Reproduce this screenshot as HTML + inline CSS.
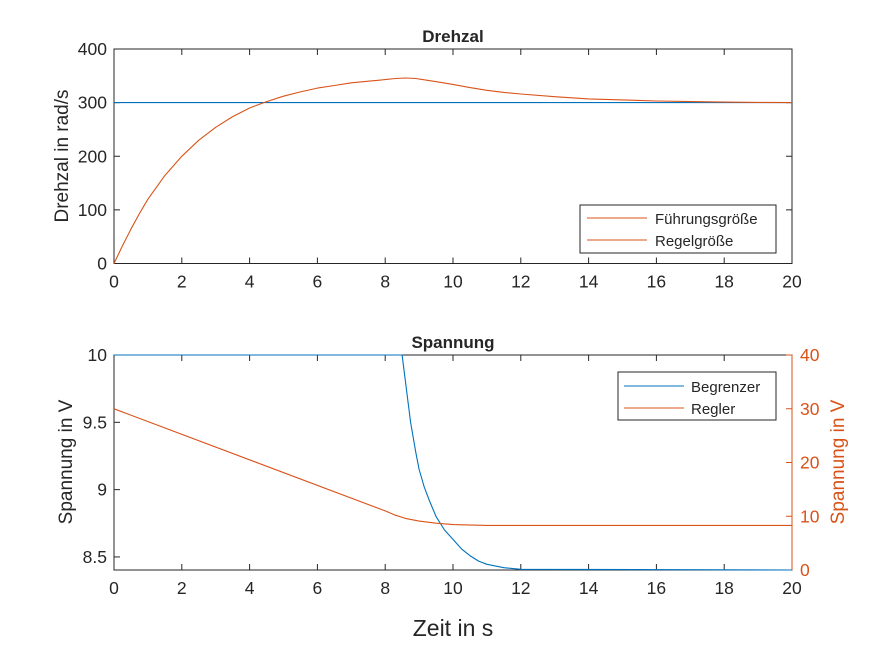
<!DOCTYPE html>
<html><head><meta charset="utf-8"><style>
body{margin:0;background:#fff}
svg text{font-family:"Liberation Sans",sans-serif;fill:#262626}
</style></head><body>
<svg id="c" width="875" height="656" xmlns="http://www.w3.org/2000/svg"></svg>
<script>
const tVals=[0,0.25,0.5,0.75,1,1.5,2,2.5,3,3.5,4,4.5,5,5.5,6,6.5,7,7.5,8,8.3,8.6,8.9,9.2,9.6,10,10.5,11,11.5,12,13,14,15,16,17,18,19,20];
const regelVals=[0,33,64,93,120,164,200,230,254,274,290,302,312,320,327,332,337,340,343,345,346,345,342,338,334,328,323,319,316,311,307,305,303,302,301,300.5,300];
const fuehrVals=[300,300];
const fuehrT=[0,20];
const begT=[0,8.5,8.55,8.65,8.75,8.9,9,9.15,9.3,9.5,9.75,10,10.25,10.5,10.75,11,11.5,12,20];
const begVals=[10,10,9.9,9.7,9.5,9.28,9.15,9.02,8.92,8.8,8.7,8.63,8.56,8.51,8.47,8.445,8.42,8.408,8.403];
const reglT=[0,8,8.3,8.6,9,9.5,10,11,20];
const reglVals=[30,11,10.2,9.6,9.1,8.7,8.45,8.3,8.3];
const xTicks=[0,2,4,6,8,10,12,14,16,18,20];
const topYTicks=[0,100,200,300,400];
const botYTicks=[8.5,9,9.5,10];
const rightTicks=[0,10,20,30,40];
const NS="http://www.w3.org/2000/svg",svg=document.getElementById('c');
function el(t,a,txt){const e=document.createElementNS(NS,t);for(const k in a)e.setAttribute(k,a[k]);if(txt!==undefined)e.textContent=txt;svg.appendChild(e);return e;}
const X0=114,X1=792;
const sx=v=>X0+(X1-X0)*v/20;
const syT=v=>263.5-(263.5-49)*v/400;
const syB=v=>570-(570-355)*(v-8.403)/(10-8.403);
const syR=v=>570-(570-355)*v/40;
function path(ts,vs,fx,fy,col,name){const d=ts.map((t,i)=>(i?'L':'M')+fx(t).toFixed(1)+','+fy(vs[i]).toFixed(1)).join('');
const p=el('path',{d:d,fill:'none',stroke:col,'stroke-width':1.1,'stroke-linejoin':'round'});

}
function axes(top,bot,name){const r=el('rect',{x:X0,y:top,width:X1-X0,height:bot-top,fill:'#fff',stroke:'#262626','stroke-width':1});


xTicks.forEach(v=>{const x=sx(v);el('line',{x1:x,x2:x,y1:bot,y2:bot-6,stroke:'#262626'});el('line',{x1:x,x2:x,y1:top,y2:top+6,stroke:'#262626'});
const t=el('text',{x:x,y:bot+24,'text-anchor':'middle','font-size':17.5},v);

});}
// top
axes(49,263.5,'top-axes');
topYTicks.forEach(v=>{const y=syT(v);el('line',{x1:X0,x2:X0+6,y1:y,y2:y,stroke:'#262626'});el('line',{x1:X1,x2:X1-6,y1:y,y2:y,stroke:'#262626'});
const t=el('text',{x:X0-7,y:y+6,'text-anchor':'end','font-size':17.5},v);

});
path(fuehrT,fuehrVals,sx,syT,'#0072BD','fuehrungsgroesse-line');
path(tVals,regelVals,sx,syT,'#D95319','regelgroesse-line');
let t=el('text',{x:453,y:42,'text-anchor':'middle','font-size':17,'font-weight':'bold',fill:'#000'},'Drehzal');

t=el('text',{x:0,y:0,'text-anchor':'middle','font-size':19,transform:'translate(68,156) rotate(-90)'},'Drehzal in rad/s');

let lg=el('rect',{x:580,y:205,width:196,height:48,fill:'#fff',stroke:'#262626'});

el('line',{x1:587,x2:647,y1:218,y2:218,stroke:'#D95319'});
el('line',{x1:587,x2:647,y1:240,y2:240,stroke:'#D95319'});
t=el('text',{x:655,y:224,'font-size':15,fill:'#000'},'Führungsgröße');
t=el('text',{x:655,y:246,'font-size':15,fill:'#000'},'Regelgröße');
// bottom
axes(355,570,'bottom-axes');
botYTicks.forEach(v=>{const y=syB(v);el('line',{x1:X0,x2:X0+6,y1:y,y2:y,stroke:'#262626'});
const t=el('text',{x:X0-7,y:y+6,'text-anchor':'end','font-size':17.5},v);
});
el('line',{x1:X1,x2:X1,y1:355,y2:570,stroke:'#D95319'});
rightTicks.forEach(v=>{const y=syR(v);el('line',{x1:X1,x2:X1-6,y1:y,y2:y,stroke:'#D95319'});
const t=el('text',{x:X1+8,y:y+6,'font-size':17.5,style:'fill:#D95319'},v);
});
path(begT,begVals,sx,syB,'#0072BD','begrenzer-line');
path(reglT,reglVals,sx,syR,'#D95319','regler-line');
t=el('text',{x:453,y:348,'text-anchor':'middle','font-size':17,'font-weight':'bold',fill:'#000'},'Spannung');

t=el('text',{x:0,y:0,'text-anchor':'middle','font-size':19,transform:'translate(72,462) rotate(-90)'},'Spannung in V');

t=el('text',{x:0,y:0,'text-anchor':'middle','font-size':19,transform:'translate(844,462) rotate(-90)',style:'fill:#D95319'},'Spannung in V');

lg=el('rect',{x:618,y:372,width:158,height:48,fill:'#fff',stroke:'#262626'});

el('line',{x1:624,x2:684,y1:386,y2:386,stroke:'#0072BD'});
el('line',{x1:624,x2:684,y1:408,y2:408,stroke:'#D95319'});
t=el('text',{x:691,y:392,'font-size':15,fill:'#000'},'Begrenzer');
t=el('text',{x:691,y:414,'font-size':15,fill:'#000'},'Regler');
t=el('text',{x:453,y:636,'text-anchor':'middle','font-size':23},'Zeit in s');

</script>
</body></html>
